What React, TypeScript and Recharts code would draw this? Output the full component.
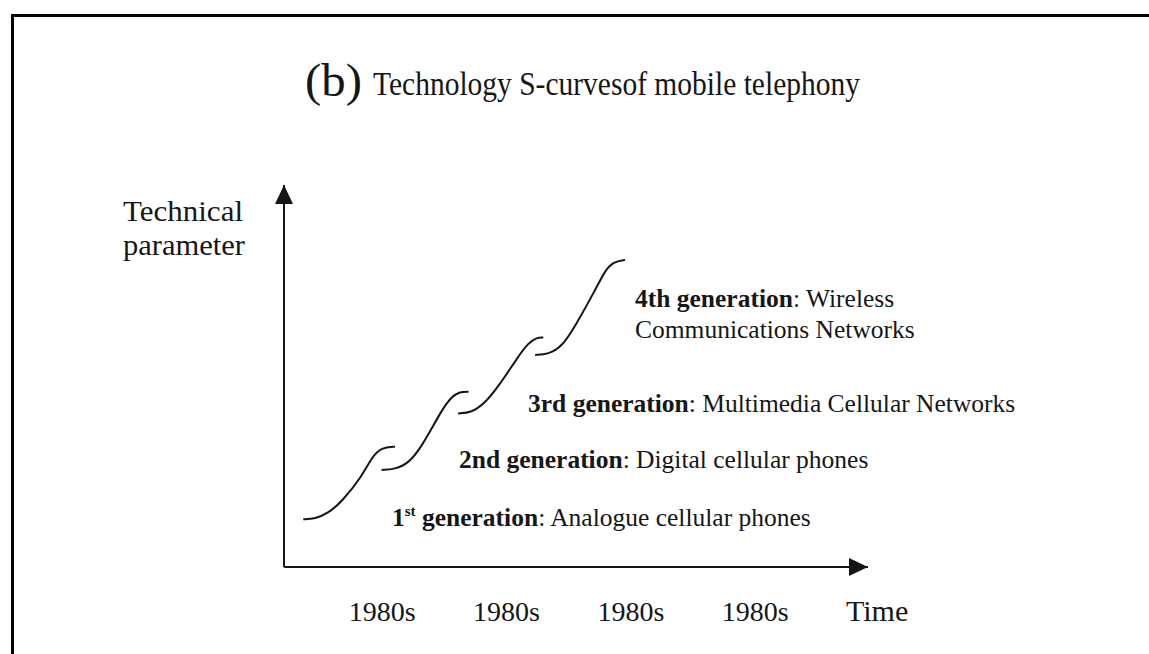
import { LineChart, Line, XAxis, YAxis } from "recharts"

const SERIF = "'Liberation Serif', 'Times New Roman', serif"
const INK = "#161616"

// S-curves. t = time (0..100), v = technical parameter (0..100)
const FIRST_GEN = [
  { t: 3.3, v: 12.5 },
  { t: 5.3, v: 12.6 },
  { t: 7.6, v: 14.1 },
  { t: 9.9, v: 17.1 },
  { t: 13.3, v: 23.6 },
  { t: 15.0, v: 28.7 },
  { t: 16.7, v: 31.3 },
  { t: 19.0, v: 31.5 },
]

const SECOND_GEN = [
  { t: 16.7, v: 25.4 },
  { t: 19.0, v: 25.6 },
  { t: 21.3, v: 27.1 },
  { t: 23.6, v: 31.5 },
  { t: 27.0, v: 41.1 },
  { t: 28.7, v: 44.6 },
  { t: 30.1, v: 45.9 },
  { t: 31.6, v: 45.9 },
]

const THIRD_GEN = [
  { t: 29.8, v: 40.2 },
  { t: 32.1, v: 40.4 },
  { t: 34.4, v: 42.9 },
  { t: 36.7, v: 47.2 },
  { t: 40.1, v: 55.1 },
  { t: 41.8, v: 58.6 },
  { t: 43.3, v: 60.1 },
  { t: 44.4, v: 60.1 },
]

const FOURTH_GEN = [
  { t: 43.0, v: 55.5 },
  { t: 45.3, v: 55.7 },
  { t: 47.6, v: 57.7 },
  { t: 49.8, v: 62.9 },
  { t: 53.3, v: 72.5 },
  { t: 55.0, v: 77.7 },
  { t: 56.4, v: 79.9 },
  { t: 58.4, v: 80.4 },
]

const TICK_VALUES = [16.8, 38.1, 59.4, 80.7]
const TICK_LABELS = ["1980s", "1980s", "1980s", "1980s"]

const SERIES = [
  { name: "1st generation", data: FIRST_GEN },
  { name: "2nd generation", data: SECOND_GEN },
  { name: "3rd generation", data: THIRD_GEN },
  { name: "4th generation", data: FOURTH_GEN },
]

const W = 1149
const H = 654

export default function App() {
  return (
    <div
      style={{
        position: "absolute",
        left: 0,
        top: 0,
        width: W,
        height: H,
        background: "#fff",
        overflow: "hidden",
      }}
    >
      {/* arrow head used by both axis lines */}
      <svg width={0} height={0} style={{ position: "absolute" }}>
        <defs>
          <marker
            id="axisArrow"
            viewBox="0 0 10 10"
            refX={10}
            refY={5}
            markerWidth={19}
            markerHeight={18}
            markerUnits="userSpaceOnUse"
            preserveAspectRatio="none"
            orient="auto-start-reverse"
          >
            <path d="M0,0 L10,5 L0,10 z" fill={INK} />
          </marker>
        </defs>
      </svg>

      {/* frame: top and left rules */}
      <div
        style={{
          position: "absolute",
          left: 11,
          top: 14,
          width: W,
          height: H,
          borderTop: "3px solid #000",
          borderLeft: "3px solid #000",
        }}
      />

      <div style={{ position: "absolute", left: 0, top: 0 }}>
        <LineChart
          width={W}
          height={H}
          margin={{ top: 185, right: 281, bottom: 57, left: 283 }}
        >
          <XAxis
            type="number"
            dataKey="t"
            domain={[0, 100]}
            ticks={TICK_VALUES}
            interval={0}
            tickFormatter={(_v: number, i: number) => TICK_LABELS[i]}
            tickLine={false}
            tickSize={6}
            tickMargin={28}
            height={30}
            tick={{ fill: INK, fontSize: 28, fontFamily: SERIF }}
            axisLine={{ stroke: INK, strokeWidth: 2, markerEnd: "url(#axisArrow)" }}
          />
          <YAxis
            type="number"
            dataKey="v"
            domain={[0, 100]}
            width={1}
            tick={false}
            tickLine={false}
            axisLine={{ stroke: INK, strokeWidth: 2, markerStart: "url(#axisArrow)" }}
          />
          {SERIES.map((s) => (
            <Line
              key={s.name}
              name={s.name}
              data={s.data}
              dataKey="v"
              type="basis"
              stroke={INK}
              strokeWidth={2}
              dot={false}
              isAnimationActive={false}
            />
          ))}
        </LineChart>
      </div>

      {/* title and annotations */}
      <svg
        width={W}
        height={H}
        style={{ position: "absolute", left: 0, top: 0, pointerEvents: "none" }}
        fontFamily={SERIF}
        fill={INK}
      >
        <text x={305} y={96} fontSize={47} textLength={57} lengthAdjust="spacingAndGlyphs">
          (b)
        </text>
        <text x={373} y={95} fontSize={33} textLength={487} lengthAdjust="spacingAndGlyphs">
          Technology S-curvesof mobile telephony
        </text>

        <text x={123} y={221} fontSize={28.5} textLength={120} lengthAdjust="spacingAndGlyphs">
          Technical
        </text>
        <text x={123} y={255} fontSize={28.5} textLength={122} lengthAdjust="spacingAndGlyphs">
          parameter
        </text>

        <text x={846} y={621} fontSize={30}>Time</text>

        <text x={392} y={526} fontSize={25.5}>
          <tspan fontWeight="bold">1</tspan>
          <tspan fontWeight="bold" fontSize={15} dy={-10}>st</tspan>
          <tspan fontWeight="bold" dy={10}>{" generation"}</tspan>
          <tspan>: Analogue cellular phones</tspan>
        </text>

        <text x={459} y={468} fontSize={25.5}>
          <tspan fontWeight="bold">2nd generation</tspan>
          <tspan>: Digital cellular phones</tspan>
        </text>

        <text x={528} y={412} fontSize={25.5}>
          <tspan fontWeight="bold">3rd generation</tspan>
          <tspan>: Multimedia Cellular Networks</tspan>
        </text>

        <text x={635} y={307} fontSize={25.5}>
          <tspan fontWeight="bold">4th generation</tspan>
          <tspan>: Wireless</tspan>
        </text>
        <text x={635} y={338} fontSize={25.5}>Communications Networks</text>
      </svg>
    </div>
  )
}
